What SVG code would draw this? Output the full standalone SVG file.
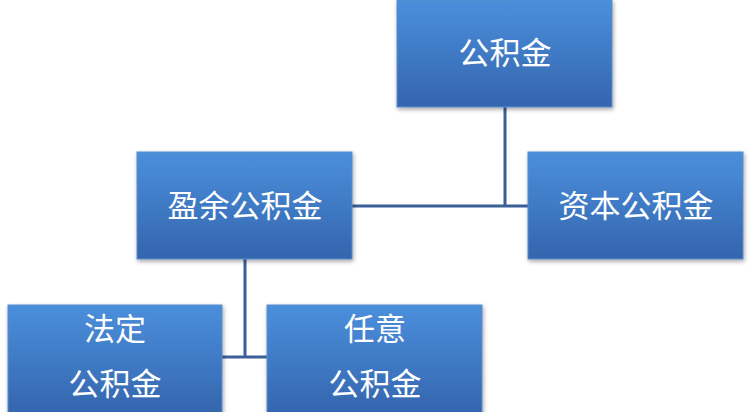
<svg xmlns="http://www.w3.org/2000/svg" width="750" height="412" viewBox="0 0 750 412">
<defs>
<linearGradient id="g" x1="0" y1="0" x2="0" y2="1">
<stop offset="0" stop-color="#4b8fdc"/>
<stop offset="1" stop-color="#3465ad"/>
</linearGradient>
<filter id="s" x="-10%" y="-10%" width="130%" height="130%"><feDropShadow dx="1" dy="2" stdDeviation="2" flood-color="#000" flood-opacity="0.35"/></filter>
</defs>
<style>
.b{fill:url(#g);stroke:#5a8ccc;stroke-width:1;filter:url(#s)}
.t{font-family:"Liberation Serif","Noto Sans CJK SC",serif;font-size:31px;fill:#fff;text-anchor:middle}
.c{stroke:#3b5f98;stroke-width:3;fill:none}
</style>
<rect width="750" height="412" fill="#fff"/>
<g id="connectors">
<path class="c" d="M505 107V206M352 206H528"/>
<path class="c" d="M245 259V357M222 357H267"/>
</g>
<g id="n1"><rect class="b" x="397" y="0" width="215" height="107"/><text class="t" x="505" y="64">公积金</text></g>
<g id="n2"><rect class="b" x="137" y="152" width="215" height="107"/><text class="t" x="245" y="217">盈余公积金</text></g>
<g id="n3"><rect class="b" x="528" y="152" width="215" height="107"/><text class="t" x="636" y="217">资本公积金</text></g>
<g id="n4"><rect class="b" x="8" y="305" width="214" height="110"/><text class="t" x="115" y="340">法定</text><text class="t" x="115" y="395">公积金</text></g>
<g id="n5"><rect class="b" x="267" y="305" width="215" height="110"/><text class="t" x="375" y="340">任意</text><text class="t" x="375" y="395">公积金</text></g>
</svg>
